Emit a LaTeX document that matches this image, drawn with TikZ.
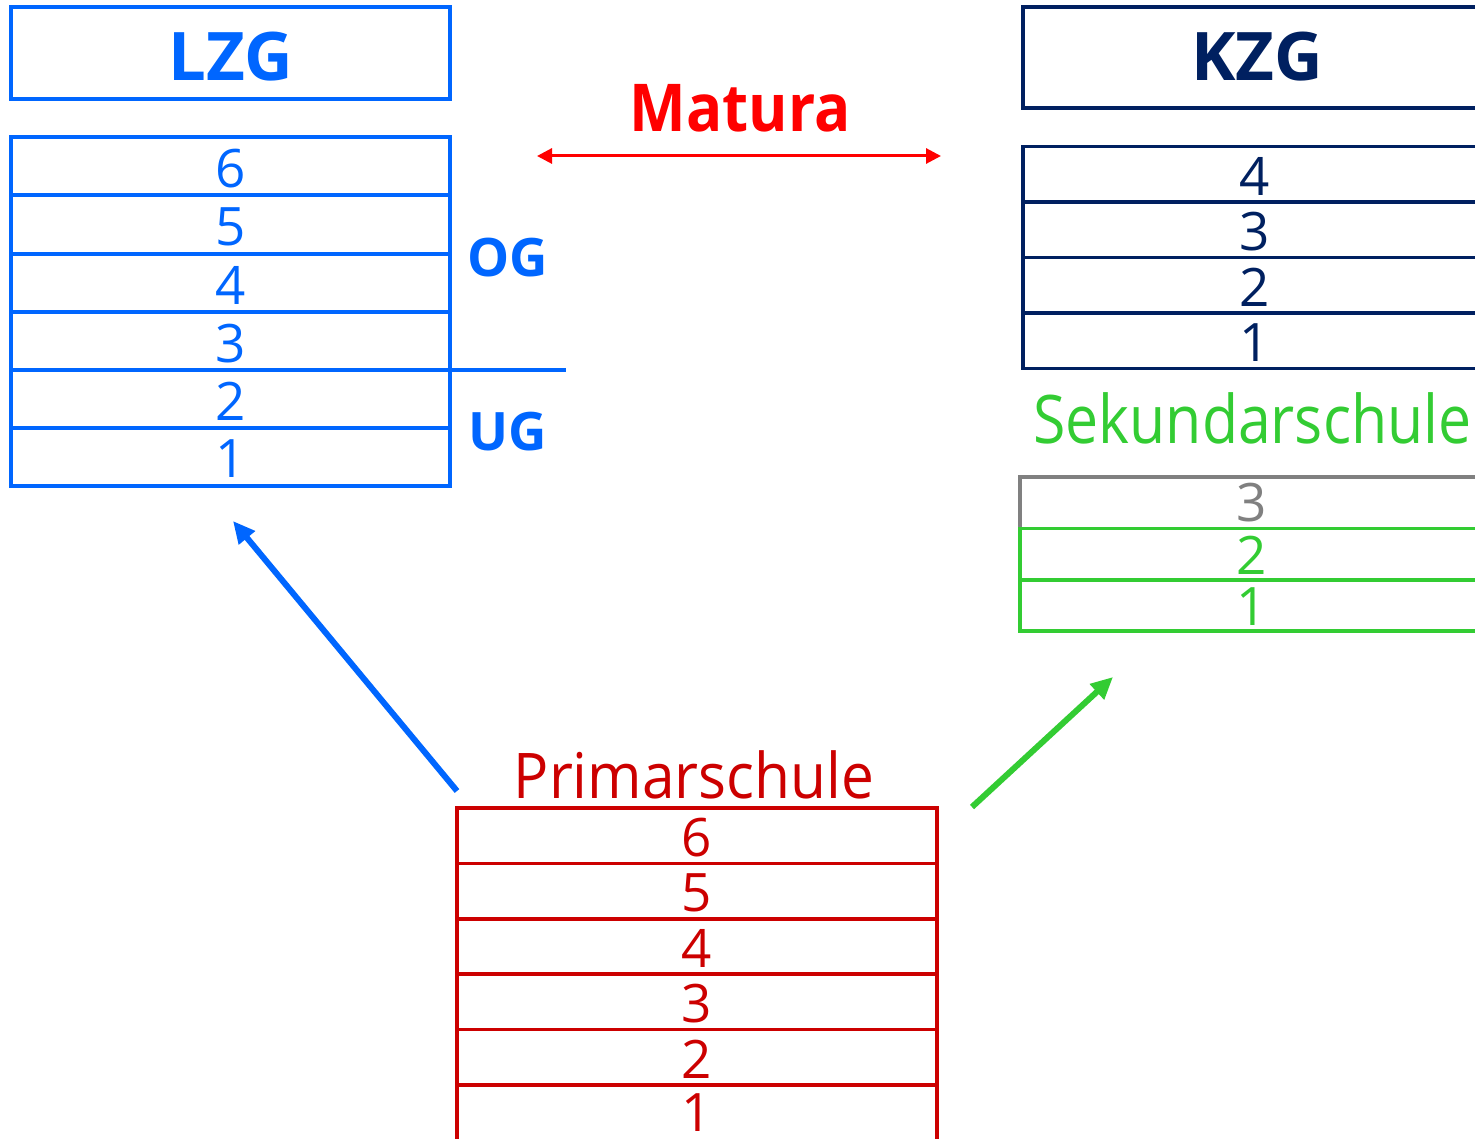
\documentclass[tikz,border=0pt]{standalone}
\usepackage{graphicx}
\usepackage{fontspec}
\setmainfont{Open Sans}
\usetikzlibrary{arrows.meta}
\definecolor{lzgblue}{RGB}{0,102,255}
\definecolor{kzgnavy}{RGB}{0,32,96}
\definecolor{sekgreen}{RGB}{51,204,51}
\definecolor{primred}{RGB}{204,0,0}
\definecolor{matred}{RGB}{255,0,0}
\definecolor{graygrade}{RGB}{128,128,128}
\newcommand\fsz[1]{\fontsize{#1}{#1}\selectfont}
\begin{document}
\begin{tikzpicture}[x=1pt,y=-1pt,
  cellbase/.style={rectangle, inner sep=0pt, outer sep=0pt, line width=3.5pt, font=\fsz{53}},
  lzgcell/.style={cellbase, draw=lzgblue, text=lzgblue, minimum width=439pt, minimum height=58pt},
  kzgcell/.style={cellbase, draw=kzgnavy, text=kzgnavy, minimum width=467pt, minimum height=55.5pt},
  sekcell/.style={cellbase, draw=sekgreen, text=sekgreen, minimum width=470pt, minimum height=51.3pt},
  primcell/.style={cellbase, draw=primred, text=primred, minimum width=480pt, minimum height=55.4pt},
  numtext/.style={inner sep=0pt, outer sep=0pt, font=\fsz{53}},
  headbox/.style={rectangle, inner sep=0pt, outer sep=0pt, line width=3.5pt},
  headtext/.style={inner sep=0pt, font=\fsz{67}\bfseries},
  sidelabel/.style={inner sep=0pt, text=lzgblue, font=\fsz{53}\bfseries},
  bigarrow/.style={line width=6pt, -{Triangle[length=22pt,width=20pt]}},
]
\useasboundingbox (0,0) rectangle (1475,1139);
\clip (0,0) rectangle (1475,1139);

% LZG
\node[headbox, draw=lzgblue, minimum width=439pt, minimum height=92pt] (lzg) at (230.5,53) {};
\node[headtext, text=lzgblue] (lzgtext) at (231,57) {LZG};
\node[lzgcell] (l6) at (230.5,166) {};
\node[lzgcell] (l5) at (230.5,224.5) {};
\node[lzgcell] (l4) at (230.5,283) {};
\node[lzgcell] (l3) at (230.5,341) {};
\node[lzgcell] (l2) at (230.5,399) {};
\node[lzgcell] (l1) at (230.5,457) {};
\node[numtext, text=lzgblue] (l6t) at (231,168.5) {6};
\node[numtext, text=lzgblue] (l5t) at (231,227) {5};
\node[numtext, text=lzgblue] (l4t) at (231,285) {4};
\node[numtext, text=lzgblue] (l3t) at (231,343.5) {3};
\node[numtext, text=lzgblue] (l2t) at (231,401.5) {2};
\node[numtext, text=lzgblue] (l1t) at (231,459) {1};
\coordinate (ogugend) at (566,370);
\draw[lzgblue, line width=3.5pt] (l3.south east) -- (ogugend);
\node[sidelabel] (og) at (508,258) {OG};
\node[sidelabel] (ug) at (508,432) {UG};

% Matura
\node[inner sep=0pt, text=matred, font=\fsz{66}\bfseries] (matura) at (740,108) {\scalebox{0.91}[1]{Matura}};
\coordinate (matL) at (537,156);
\coordinate (matR) at (941,156);
\draw[matred, line width=3pt, {Triangle[length=15pt,width=15pt]}-{Triangle[length=15pt,width=15pt]}] (matL) -- (matR);

% KZG
\node[headbox, draw=kzgnavy, minimum width=467pt, minimum height=101pt] (kzg) at (1256.5,57.5) {};
\node[headtext, text=kzgnavy] (kzgtext) at (1257,57) {KZG};
\node[kzgcell] (k4) at (1256.5,174.5) {};
\node[kzgcell] (k3) at (1256.5,230) {};
\node[kzgcell] (k2) at (1256.5,285.5) {};
\node[kzgcell] (k1) at (1256.5,341) {};
\node[numtext, text=kzgnavy] (k4t) at (1255,176) {4};
\node[numtext, text=kzgnavy] (k3t) at (1255,231.5) {3};
\node[numtext, text=kzgnavy] (k2t) at (1255,287) {2};
\node[numtext, text=kzgnavy] (k1t) at (1255,342.5) {1};

% Sekundarschule
\node[anchor=base west, inner sep=0pt, text=sekgreen, font=\fsz{67}] (sek) at (1033,443) {\scalebox{0.88}[1]{Sekundarschule}};
\node[cellbase, minimum width=470pt, minimum height=51.3pt] (s3) at (1255,502.5) {};
\draw[graygrade, line width=3.5pt] (s3.south west) -- (s3.north west) -- (s3.north east);
\node[sekcell] (s2) at (1255,554) {};
\node[sekcell] (s1) at (1255,605.5) {};
\node[numtext, text=graygrade] (s3t) at (1252,503) {3};
\node[numtext, text=sekgreen] (s2t) at (1252,555) {2};
\node[numtext, text=sekgreen] (s1t) at (1252,607) {1};

% Primarschule
\node[inner sep=0pt, text=primred, font=\fsz{63}] (prim) at (694,775) {\scalebox{0.93}[1]{Primarschule}};
\node[primcell] (p6) at (697,835.7) {};
\node[primcell] (p5) at (697,891.1) {};
\node[primcell] (p4) at (697,946.5) {};
\node[primcell] (p3) at (697,1001.9) {};
\node[primcell] (p2) at (697,1057.3) {};
\node[primcell] (p1) at (697,1112.7) {};
\node[numtext, text=primred] (p6t) at (697,837.5) {6};
\node[numtext, text=primred] (p5t) at (697,893) {5};
\node[numtext, text=primred] (p4t) at (697,948) {4};
\node[numtext, text=primred] (p3t) at (697,1004) {3};
\node[numtext, text=primred] (p2t) at (697,1059) {2};
\node[numtext, text=primred] (p1t) at (697,1113) {1};

% arrows
\coordinate (blueS) at (457,791);
\coordinate (blueE) at (233,521);
\draw[bigarrow, lzgblue] (blueS) -- (blueE);
\coordinate (greenS) at (972,807);
\coordinate (greenE) at (1113,677);
\draw[bigarrow, sekgreen] (greenS) -- (greenE);
\end{tikzpicture}
\end{document}
